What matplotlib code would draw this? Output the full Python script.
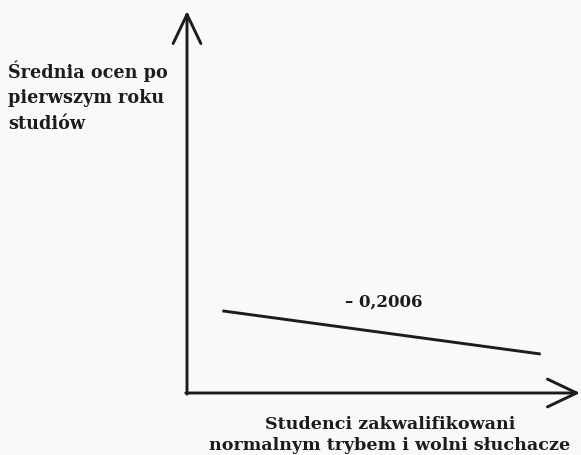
import matplotlib
matplotlib.use("Agg")
import matplotlib.pyplot as plt

# Data (abstract units: axes span 0..1 in both directions)
line_x = [0.09, 0.90]
line_y = [0.215, 0.102]
slope_label = "– 0,2006"
slope_label_pos = (0.50, 0.24)
y_title = "Średnia ocen po\npierwszym roku\nstudiów"
x_title = "Studenci zakwalifikowani\nnormalnym trybem i wolni słuchacze"

W, H = 581, 456
fig = plt.figure(figsize=(W / 100, H / 100), dpi=100)
bg = "#f9f9f9"
fig.patch.set_facecolor(bg)

ax = fig.add_axes([187 / W, (H - 394) / H, 393 / W, 382 / H])
ax.set_xlim(0, 1)
ax.set_ylim(0, 1)
ax.axis("off")
ax.patch.set_alpha(0)

ink = "#1c1c1c"
arrow_kw = dict(arrowstyle="->,head_length=1.05,head_width=0.5", color=ink, lw=2.1,
                shrinkA=0, shrinkB=0, mutation_scale=20)
ax.annotate("", xy=(0, 1), xytext=(0, -0.003), xycoords="axes fraction",
            arrowprops=arrow_kw, annotation_clip=False)
ax.annotate("", xy=(1, 0), xytext=(-0.003, 0), xycoords="axes fraction",
            arrowprops=arrow_kw, annotation_clip=False)

ax.plot(line_x, line_y, color=ink, lw=2.1, solid_capstyle="butt")
ax.text(slope_label_pos[0], slope_label_pos[1], slope_label, ha="center", va="center",
        fontsize=12, fontweight="bold", family="DejaVu Serif", color=ink)

fig.text(8 / W, 1 - 60 / H, y_title, ha="left", va="top", fontsize=12.7,
         fontweight="bold", family="DejaVu Serif", color=ink, linespacing=1.55)
fig.text(390 / W, 1 - 416 / H, x_title, ha="center", va="top", fontsize=12.6,
         fontweight="bold", family="DejaVu Serif", color=ink, linespacing=1.32,
         multialignment="center")

fig.savefig("out.png", dpi=100, facecolor=bg)
